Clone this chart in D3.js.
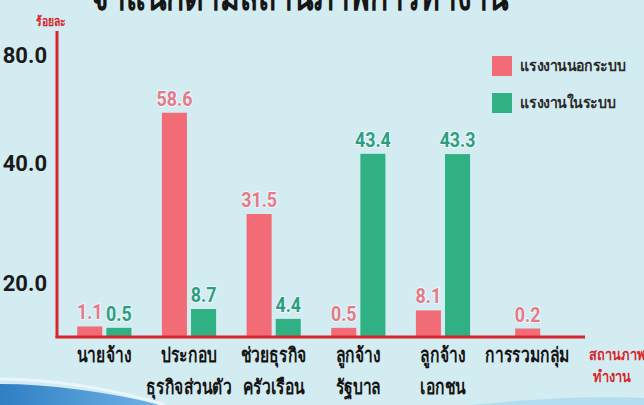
<!DOCTYPE html>
<html>
<head>
<meta charset="utf-8">
<script src="https://cdn.jsdelivr.net/npm/d3@7"></script>
<style>
  html, body { margin: 0; padding: 0; background: #d3ecf1; overflow: hidden; }
  svg { display: block; }
</style>
</head>
<body>
<svg id="chart" width="644" height="405"></svg>
<script>
// ---- data ----
const categories = [
  ["นายจ้าง"],
  ["ประกอบ", "ธุรกิจส่วนตัว"],
  ["ช่วยธุรกิจ", "ครัวเรือน"],
  ["ลูกจ้าง", "รัฐบาล"],
  ["ลูกจ้าง", "เอกชน"],
  ["การรวมกลุ่ม"]
];
const seriesNames = ["แรงงานนอกระบบ", "แรงงานในระบบ"];
const informal = [1.1, 58.6, 31.5, 0.5, 8.1, 0.2];
const formal   = [0.5, 8.7, 4.4, 43.4, 43.3, null];
const yTicks = [20, 40, 80];
const title = "จำแนกตามสถานภาพการทำงาน";
const yUnit = "ร้อยละ";
const xUnit = ["สถานภาพ", "ทำงาน"];

// ---- styles ----
const colors = ["#f26c78", "#2fb184"];
const labelColors = ["#e47a87", "#2c9e7f"];
const axisRed = "#d8262c";
const thaiFont = "'Noto Sans', 'DejaVu Sans', sans-serif";
const numFont = "'Liberation Sans Narrow', 'Roboto', sans-serif";

const svg = d3.select("#chart");
const W = 644, H = 405;

// condensed text helper
function ctext(parent, x, y, str, opts) {
  const t = parent.append("text")
    .attr("transform", `translate(${x},${y}) scale(${opts.sx || 1},1)`)
    .attr("text-anchor", opts.anchor || "middle")
    .attr("font-family", opts.family || thaiFont)
    .attr("font-weight", "bold")
    .attr("font-size", opts.size)
    .attr("fill", opts.fill)
    .text(str);
  return t;
}

// background
svg.append("rect").attr("width", W).attr("height", H).attr("fill", "#d3ecf1");
const defs = svg.append("defs");
const g1 = defs.append("linearGradient").attr("id", "wave").attr("x1", "0").attr("x2", "1").attr("y1", "0").attr("y2", "0");
g1.append("stop").attr("offset", "0%").attr("stop-color", "#2f7fc4");
g1.append("stop").attr("offset", "100%").attr("stop-color", "#6fb3e6");
svg.append("path")
  .attr("d", "M0,384 C50,384 110,392 160,405 L0,405 Z")
  .attr("fill", "url(#wave)");
svg.append("path")
  .attr("d", "M0,379 C50,379 110,388 165,405")
  .attr("fill", "none").attr("stroke", "#eaf6fb").attr("stroke-width", 3);
svg.append("path")
  .attr("d", "M470,405 C540,398 600,396 644,398 L644,405 Z")
  .attr("fill", "#9fd2ee").attr("opacity", 0.6);

// title (cut by the top edge)
ctext(svg, 300, 10, title, { size: 40, sx: 0.75, fill: "#161616" });

// ---- scales ----
const baseY = 336;
const x0 = d3.scaleBand()
  .domain(d3.range(categories.length))
  .range([62, 570])
  .paddingInner(0.36).paddingOuter(0.18);
const x1 = d3.scaleBand()
  .domain(d3.range(seriesNames.length))
  .range([0, x0.bandwidth()])
  .paddingInner(0.14);
// piecewise-linear y scale (infographic axis is not uniform)
const y = d3.scaleLinear()
  .domain([0, 20, 40, 80])
  .range([329, 283, 163, 55]);

// y tick labels
const yAxis = d3.axisLeft(y).tickValues(yTicks).tickSize(0).tickPadding(0)
  .tickFormat(d3.format(".1f"));
const ya = svg.append("g").attr("transform", "translate(47,0)").call(yAxis);
ya.select(".domain").remove();
ya.selectAll("text")
  .attr("font-family", numFont).attr("font-weight", "bold")
  .attr("font-size", 22).attr("fill", "#1a1a1a").attr("dy", "0.35em");

// axes lines
svg.append("line").attr("x1", 57).attr("x2", 57).attr("y1", 31).attr("y2", baseY + 2)
  .attr("stroke", axisRed).attr("stroke-width", 3);
ctext(svg, 51, 26, yUnit, { size: 13, sx: 0.8, fill: axisRed });

// bars
const rows = categories.map((c, i) => ({ i, vals: [informal[i], formal[i]] }));
const groups = svg.append("g").selectAll("g").data(rows).join("g")
  .attr("transform", d => `translate(${x0(d.i)},0)`);

groups.each(function(d) {
  const g = d3.select(this);
  const present = d.vals.map((v, k) => ({ v, k })).filter(e => e.v != null);
  present.forEach(e => {
    const bx = present.length === 1 ? (x0.bandwidth() - x1.bandwidth()) / 2 : x1(e.k);
    const top = y(e.v);
    g.append("rect")
      .attr("x", bx).attr("y", top)
      .attr("width", x1.bandwidth()).attr("height", baseY - top)
      .attr("fill", colors[e.k]);
    ctext(g, bx + x1.bandwidth() / 2, top - 7, d3.format(".1f")(e.v),
      { size: 21, sx: 0.85, family: numFont, fill: labelColors[e.k] })
      .attr("stroke", "#eef8fa").attr("stroke-width", 2).attr("paint-order", "stroke");
  });
});

// baseline
svg.append("line").attr("x1", 55.5).attr("x2", 585).attr("y1", baseY + 1).attr("y2", baseY + 1)
  .attr("stroke", axisRed).attr("stroke-width", 3);

// x category labels
categories.forEach((lines, i) => {
  const cx = x0(i) + x0.bandwidth() / 2;
  lines.forEach((t, j) => {
    ctext(svg, cx, 362 + j * 32, t, { size: 20, sx: 0.78, fill: "#151515" });
  });
});

// x unit
ctext(svg, 589, 360, xUnit[0], { size: 16, sx: 0.8, anchor: "start", fill: axisRed });
ctext(svg, 612, 382, xUnit[1], { size: 16, sx: 0.8, fill: axisRed });

// legend
seriesNames.forEach((s, k) => {
  const ly = 56 + k * 37;
  svg.append("rect").attr("x", 492).attr("y", ly).attr("width", 20).attr("height", 20)
    .attr("fill", colors[k]);
  ctext(svg, 520, ly + 15, s, { size: 16, sx: 0.88, anchor: "start", fill: "#2a2a2a" });
});
</script>
</body>
</html>
